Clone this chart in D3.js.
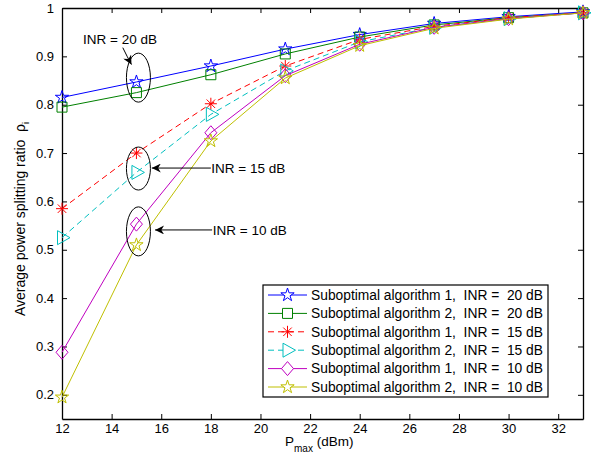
<!DOCTYPE html>
<html>
<head>
<meta charset="utf-8">
<script src="https://cdn.jsdelivr.net/npm/d3@7"></script>
<style>
  body { margin: 0; background: #fff; }
  text { font-family: "Liberation Sans", Arial, sans-serif; fill: #000; white-space: pre; }
</style>
</head>
<body>
<div id="chart"></div>
<script>
// data
var pmax = [12, 15, 18, 21, 24, 27, 30, 33];
var alg1_20 = [0.815, 0.847, 0.880, 0.915, 0.945, 0.968, 0.982, 0.992];
var alg2_20 = [0.795, 0.825, 0.862, 0.905, 0.940, 0.965, 0.980, 0.990];
var alg1_15 = [0.585, 0.700, 0.802, 0.880, 0.935, 0.962, 0.980, 0.990];
var alg2_15 = [0.525, 0.660, 0.780, 0.870, 0.930, 0.960, 0.978, 0.990];
var alg1_10 = [0.288, 0.553, 0.742, 0.860, 0.925, 0.960, 0.978, 0.990];
var alg2_10 = [0.195, 0.510, 0.725, 0.855, 0.922, 0.958, 0.977, 0.990];
var xTicks = [12, 14, 16, 18, 20, 22, 24, 26, 28, 30, 32];
var yTicks = [0.2, 0.3, 0.4, 0.5, 0.6, 0.7, 0.8, 0.9, 1];

var series = [
  {name: "Suboptimal algorithm 1,  INR =  20 dB", vals: alg1_20, color: "#0000ff", dash: null, mk: "star"},
  {name: "Suboptimal algorithm 2,  INR =  20 dB", vals: alg2_20, color: "#008000", dash: null, mk: "square"},
  {name: "Suboptimal algorithm 1,  INR =  15 dB", vals: alg1_15, color: "#ff0000", dash: "6,4", mk: "asterisk"},
  {name: "Suboptimal algorithm 2,  INR =  15 dB", vals: alg2_15, color: "#00bfbf", dash: "6,4", mk: "triangle"},
  {name: "Suboptimal algorithm 1,  INR =  10 dB", vals: alg1_10, color: "#bf00bf", dash: null, mk: "diamond"},
  {name: "Suboptimal algorithm 2,  INR =  10 dB", vals: alg2_10, color: "#bfbf00", dash: null, mk: "star"}
];

var margin = {top: 8, right: 12, bottom: 43, left: 62};
var W = 595, H = 462;
var width = W - margin.left - margin.right;
var height = H - margin.top - margin.bottom;

var svg = d3.select("#chart").append("svg")
  .attr("width", W).attr("height", H);
var g = svg.append("g")
  .attr("transform", "translate(" + margin.left + "," + margin.top + ")");

var x = d3.scaleLinear().domain([12, 33]).range([0, width]);
var y = d3.scaleLinear().domain([0.15, 1]).range([height, 0]);

// marker paths
function markerPath(type) {
  var p = d3.path();
  if (type == "star") {
    var R = 7, r = R * 0.382;
    for (var k = 0; k < 10; k++) {
      var rr = k % 2 == 0 ? R : r;
      var a = -Math.PI / 2 + k * Math.PI / 5;
      if (k == 0) p.moveTo(rr * Math.cos(a), rr * Math.sin(a));
      else p.lineTo(rr * Math.cos(a), rr * Math.sin(a));
    }
    p.closePath();
  } else if (type == "square") {
    p.rect(-5, -5, 10, 10);
  } else if (type == "diamond") {
    p.moveTo(0, -7); p.lineTo(6, 0); p.lineTo(0, 7); p.lineTo(-6, 0); p.closePath();
  } else if (type == "triangle") {
    p.moveTo(8, 0); p.lineTo(-4.5, -7); p.lineTo(-4.5, 7); p.closePath();
  } else if (type == "asterisk") {
    var L = 6;
    for (var j = 0; j < 4; j++) {
      var b = j * Math.PI / 4;
      p.moveTo(-L * Math.cos(b), -L * Math.sin(b));
      p.lineTo(L * Math.cos(b), L * Math.sin(b));
    }
  }
  return p.toString();
}

// axes (ticks inside, boxed)
var ax = g.append("g").attr("transform", "translate(0," + height + ")")
  .call(d3.axisBottom(x).tickValues(xTicks).tickSizeInner(-5).tickSizeOuter(0).tickPadding(5));
var axTop = g.append("g")
  .call(d3.axisTop(x).tickValues(xTicks).tickSizeInner(-5).tickSizeOuter(0).tickFormat(""));
var ay = g.append("g")
  .call(d3.axisLeft(y).tickValues(yTicks).tickSizeInner(-5).tickSizeOuter(0).tickPadding(8).tickFormat(d3.format("")));
var ayR = g.append("g").attr("transform", "translate(" + width + ",0)")
  .call(d3.axisRight(y).tickValues(yTicks).tickSizeInner(-5).tickSizeOuter(0).tickFormat(""));
[ax, axTop, ay, ayR].forEach(function(a) {
  a.selectAll("path").attr("stroke", "#000").attr("stroke-width", 1.3);
  a.selectAll("line").attr("stroke", "#000");
  a.selectAll("text").style("font-size", "13px").attr("font-family", "Liberation Sans, Arial, sans-serif");
});

// lines + markers
var line = d3.line()
  .x(function(d, i) { return x(pmax[i]); })
  .y(function(d) { return y(d); });

series.forEach(function(s) {
  g.append("path")
    .attr("d", line(s.vals))
    .attr("fill", "none")
    .attr("stroke", s.color)
    .attr("stroke-width", 1)
    .attr("stroke-dasharray", s.dash);
  g.selectAll(null).data(s.vals).enter().append("path")
    .attr("transform", function(d, i) { return "translate(" + x(pmax[i]) + "," + y(d) + ")"; })
    .attr("d", markerPath(s.mk))
    .attr("fill", "none")
    .attr("stroke", s.color)
    .attr("stroke-width", 1);
});

// annotations
var ellipses = [
  {cx: 15, cy: 0.856, rx: 12, ry: 24.5},
  {cx: 15, cy: 0.668, rx: 12, ry: 21.5},
  {cx: 15, cy: 0.538, rx: 12, ry: 24.5}
];
g.selectAll("ellipse").data(ellipses).enter().append("ellipse")
  .attr("cx", function(d) { return x(d.cx) + 2; })
  .attr("cy", function(d) { return y(d.cy); })
  .attr("rx", function(d) { return d.rx; })
  .attr("ry", function(d) { return d.ry; })
  .attr("fill", "none").attr("stroke", "#000").attr("stroke-width", 1);

svg.append("defs").append("marker")
  .attr("id", "ah").attr("viewBox", "0 -5 10 10")
  .attr("refX", 10).attr("refY", 0)
  .attr("markerWidth", 11).attr("markerHeight", 9)
  .attr("markerUnits", "userSpaceOnUse")
  .attr("orient", "auto")
  .append("path").attr("d", "M0,-5L10,0L0,5L3,0Z").attr("fill", "#000");

var arrows = [
  {x1: 18.0, y1: 0.669, x2: 15.62, y2: 0.669},
  {x1: 18.05, y1: 0.541, x2: 15.75, y2: 0.541}
];
g.selectAll(".arr").data(arrows).enter().append("line")
  .attr("class", "arr")
  .attr("x1", function(d) { return x(d.x1); })
  .attr("y1", function(d) { return y(d.y1); })
  .attr("x2", function(d) { return x(d.x2); })
  .attr("y2", function(d) { return y(d.y2); })
  .attr("stroke", "#000").attr("stroke-width", 1)
  .attr("marker-end", "url(#ah)");
g.append("path")
  .attr("d", "M" + x(14.45) + "," + y(0.918) + " Q" + x(14.62) + "," + y(0.9) + " " + x(14.8) + "," + y(0.883))
  .attr("fill", "none").attr("stroke", "#000").attr("stroke-width", 1)
  .attr("marker-end", "url(#ah)");

var labels = [
  {t: "INR = 20 dB", x: 12.85, y: 0.935},
  {t: "INR = 15 dB", x: 18.02, y: 0.669},
  {t: "INR = 10 dB", x: 18.08, y: 0.541}
];
g.selectAll(".lbl").data(labels).enter().append("text")
  .attr("x", function(d) { return x(d.x); })
  .attr("y", function(d) { return y(d.y); })
  .attr("dy", "0.35em")
  .style("font-size", "13.5px")
  .text(function(d) { return d.t; });

// legend
var lg = g.append("g").attr("transform", "translate(" + (263 - margin.left) + "," + (285 - margin.top) + ")");
lg.append("rect").attr("width", 285).attr("height", 112)
  .attr("fill", "#fff").attr("stroke", "#000").attr("stroke-width", 1.2);
var rows = lg.selectAll(".row").data(series).enter().append("g")
  .attr("transform", function(d, i) { return "translate(0," + (10 + i * 18.4) + ")"; });
rows.append("line").attr("x1", 5).attr("x2", 44)
  .attr("stroke", function(d) { return d.color; })
  .attr("stroke-dasharray", function(d) { return d.dash; });
rows.append("path")
  .attr("transform", "translate(24.5,0)")
  .attr("d", function(d) { return markerPath(d.mk); })
  .attr("fill", "#fff")
  .attr("stroke", function(d) { return d.color; });
rows.append("text").attr("x", 48).attr("dy", "0.35em")
  .style("font-size", "13.8px")
  .text(function(d) { return d.name; });

// axis labels
var xl = svg.append("text")
  .attr("x", 285).attr("y", 446)
  .style("font-size", "13.5px");
xl.append("tspan").text("P");
xl.append("tspan").attr("dy", 6).style("font-size", "10px").text("max");
xl.append("tspan").attr("dy", -6).text(" (dBm)");

var yl = svg.append("text")
  .attr("transform", "translate(25," + 219 + ") rotate(-90)")
  .attr("text-anchor", "middle")
  .style("font-size", "14px");
yl.append("tspan").text("Average power splitting ratio  \u03c1");
yl.append("tspan").attr("dy", 4).style("font-size", "9px").text("i");
</script>
</body>
</html>
